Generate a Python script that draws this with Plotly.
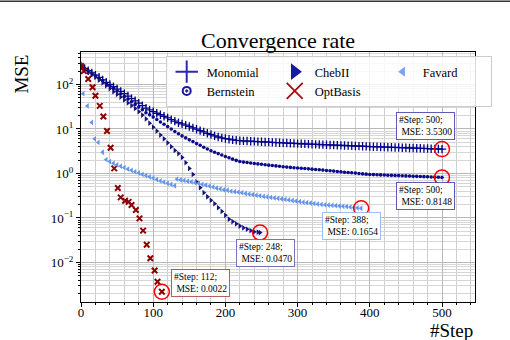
import plotly.graph_objects as go
import math

# ---------------- data ----------------
mono_steps = list(range(0, 505, 5))
mono_mse = [260, 229, 204, 182, 162, 145, 127, 112, 100, 89,
            79, 70, 62, 55, 48, 43, 38, 33.5, 29.5,
            26.9, 24.5, 22.6, 20.9, 19.3, 17.8, 16.2, 15.0, 13.8,
            13.0, 12.2, 11.4, 10.6, 9.9, 9.2, 8.6, 8.0, 7.5,
            7.0, 6.6, 6.3, 6.1, 5.9, 5.7, 5.57, 5.46,
            5.41, 5.36, 5.31, 5.26, 5.21, 5.16, 5.11, 5.06, 5.01, 4.96, 4.92, 4.87, 4.83, 4.78, 4.74, 4.70, 4.66, 4.62, 4.58,
            4.55, 4.51, 4.48, 4.45, 4.42, 4.38, 4.35, 4.32, 4.29, 4.25, 4.22, 4.19, 4.15, 4.12, 4.09, 4.06, 4.03, 4.0,
            3.98, 3.95, 3.93, 3.90, 3.88, 3.85, 3.83, 3.80, 3.78, 3.75, 3.73, 3.70, 3.68, 3.65, 3.63, 3.60, 3.58, 3.55, 3.53]

bern_steps = list(range(0, 505, 5))
bern_mse = [260, 229, 202, 178, 157, 138, 122, 107, 94, 82,
            71.5, 62, 54, 47, 41, 35.5, 31, 27, 23.2,
            20.8, 18.5, 16.3, 14.4, 12.8, 11.3, 10.0, 8.8, 7.8,
            7.0, 6.3, 5.7, 5.2, 4.7, 4.3, 3.9, 3.55, 3.25,
            3.0, 2.8, 2.6, 2.4, 2.25, 2.1, 1.97, 1.86,
            1.80, 1.76, 1.72, 1.68, 1.64, 1.61, 1.57, 1.54, 1.51, 1.48, 1.45, 1.42, 1.39, 1.37, 1.35, 1.33,
            1.31, 1.29, 1.27, 1.25, 1.23, 1.21, 1.19, 1.17, 1.15, 1.13, 1.11, 1.09, 1.07, 1.05, 1.04, 1.02, 1.00, 0.98, 0.965, 0.95,
            0.943, 0.936, 0.93, 0.923, 0.916, 0.909, 0.90, 0.896, 0.889, 0.882, 0.875, 0.869, 0.862, 0.855, 0.848, 0.842, 0.835, 0.828, 0.822, 0.8148]

cheb_steps = list(range(0, 250, 5)) + [248]
cheb_mse = [260, 225, 195, 169, 146, 126, 109, 94, 81, 69,
            60, 52, 45, 38.5, 33.5, 29, 24.5, 20.5, 16.8,
            13.5, 11.0, 9.0, 7.3, 6.0, 4.9, 4.0, 3.3, 2.8,
            2.3, 1.75, 1.3, 0.95, 0.65, 0.48, 0.37, 0.30, 0.25,
            0.21, 0.17, 0.14, 0.115, 0.094, 0.083, 0.074, 0.066, 0.06, 0.056, 0.052, 0.049, 0.048, 0.047]

fav_steps = [3, 9, 15, 19, 24, 30, 35] + list(range(40, 135, 5)) + list(range(133, 389, 5))
fav_mse = [62, 33, 14, 6.0, 5.0, 3.0, 2.05,
           1.85, 1.69, 1.57, 1.46, 1.36, 1.26, 1.18, 1.10, 1.03, 0.96, 0.90, 0.84, 0.79, 0.73, 0.68, 0.64, 0.60, 0.57, 0.53,
           0.75, 0.72, 0.70, 0.67, 0.65, 0.62, 0.60, 0.57, 0.55, 0.52,
           0.50, 0.47, 0.45, 0.43, 0.42, 0.40, 0.39, 0.38, 0.37, 0.355,
           0.345, 0.335, 0.325, 0.315, 0.305, 0.297, 0.29, 0.282, 0.275, 0.268,
           0.261, 0.254, 0.247, 0.24, 0.233, 0.227, 0.221, 0.216, 0.211, 0.206,
           0.202, 0.198, 0.195, 0.192, 0.189, 0.186, 0.183, 0.18, 0.176, 0.172,
           0.169, 0.1654]

opt_steps = [0, 4, 10, 16, 20, 26, 31, 36, 41, 46, 51, 55, 61, 66, 70, 76, 81, 86, 91, 96, 102, 106, 112]
opt_mse = [260, 200, 133, 87, 56, 33, 19, 9.0, 3.8, 1.3, 0.47, 0.29, 0.245, 0.23, 0.196, 0.151,
           0.098, 0.052, 0.025, 0.0124, 0.0066, 0.0037, 0.0022]

x_ticks = [0, 100, 200, 300, 400, 500]
y_ticks = [0.01, 0.1, 1, 10, 100]
y_ticktext = ["10<sup>\u22122</sup>", "10<sup>\u22121</sup>", "10<sup>0</sup>", "10<sup>1</sup>", "10<sup>2</sup>"]

# ---------------- styles ----------------
C_MONO = "#00008B"
C_BERN = "#0a0a8a"
C_CHEB = "#14147a"
C_OPT = "#8B0000"
C_FAV = "#6495ED"
FONT = "Liberation Serif"

series = [
    ("Monomial", mono_steps, mono_mse,
     dict(symbol="cross-thin-open", size=6, color=C_MONO, line=dict(width=1.3, color=C_MONO)),
     dict(symbol="cross-thin-open", size=16, color="#2a2ab0", line=dict(width=2, color="#2a2ab0")),
     "rgba(40,40,160,0.75)", (-17, 23)),
    ("Bernstein", bern_steps, bern_mse,
     dict(symbol="circle", size=3.6, color=C_BERN),
     dict(symbol="circle-open-dot", size=8, color="#1a1a9a", line=dict(width=2, color="#1a1a9a")),
     "rgba(40,40,160,0.75)", (-17, -19)),
    ("ChebII", cheb_steps, cheb_mse,
     dict(symbol="triangle-right", size=5, color=C_CHEB),
     dict(symbol="triangle-right", size=12, color="#1a1aa0", line=dict(width=1.5, color="#1a1aa0")),
     "rgba(60,60,170,0.7)", (5, -20)),
    ("OptBasis", opt_steps, opt_mse,
     dict(symbol="x-thin-open", size=5.5, color=C_OPT, line=dict(width=2, color=C_OPT)),
     dict(symbol="x-thin-open", size=16, color="#a01010", line=dict(width=1.8, color="#a01010")),
     "rgba(160,40,40,0.75)", (39, 9)),
    ("Favard", fav_steps, fav_mse,
     dict(symbol="triangle-left", size=5, color=C_FAV),
     dict(symbol="triangle-left", size=9, color="#7aa5f0"),
     "rgba(100,149,237,0.6)", (-10, -18)),
]

fig = go.Figure()

for name, xs, ys, mk, lmk, bcol, off in series:
    fig.add_trace(go.Scatter(x=xs, y=ys, mode="markers", marker=mk, showlegend=False, name=name,
                             hoverinfo="skip"))

# red circles on the final points
for name, xs, ys, mk, lmk, bcol, off in series:
    fig.add_trace(go.Scatter(x=[xs[-1]], y=[ys[-1]], mode="markers", showlegend=False,
                             marker=dict(symbol="circle-open", size=15, color="red",
                                         line=dict(width=1.5, color="red")),
                             hoverinfo="skip"))

# legend entries (ordered so that the rows read as in the reference)
legend_order = ["Monomial", "ChebII", "Favard", "Bernstein", "OptBasis"]
lookup = {s[0]: s for s in series}
for nm in legend_order:
    s = lookup[nm]
    fig.add_trace(go.Scatter(x=[None], y=[None], mode="markers", name=nm, marker=s[4], showlegend=True))

# annotation boxes
for name, xs, ys, mk, lmk, bcol, off in series:
    fig.add_annotation(x=xs[-1], y=math.log10(ys[-1]), xref="x", yref="y",
                       text="#Step: %d;<br>\u00a0MSE: %.4f" % (xs[-1], ys[-1]),
                       showarrow=False, xshift=off[0], yshift=off[1], align="left",
                       font=dict(family=FONT, size=9.5, color="black"),
                       bgcolor="white", bordercolor=bcol, borderwidth=1, borderpad=2)

# title & axis labels
fig.add_annotation(text="Convergence rate", xref="paper", yref="paper", x=0.5, y=1.046,
                   xanchor="center", yanchor="middle", showarrow=False,
                   font=dict(family=FONT, size=22, color="black"))
fig.add_annotation(text="MSE", xref="paper", yref="paper", x=-0.152, y=0.91, textangle=-90,
                   xanchor="center", yanchor="middle", showarrow=False,
                   font=dict(family=FONT, size=19, color="black"))
fig.add_annotation(text="#Step", xref="paper", yref="paper", x=1.0, y=-0.113,
                   xanchor="right", yanchor="middle", showarrow=False,
                   font=dict(family=FONT, size=19, color="black"))

# page rule at the very top
fig.add_shape(type="line", xref="paper", yref="paper", x0=-0.3, x1=1.2, y0=1.203, y1=1.203,
              line=dict(color="#333333", width=1.5))

minor_y = [m * 10 ** k for k in range(-3, 3) for m in range(2, 10)]

fig.update_layout(
    width=510, height=340,
    margin=dict(l=81, r=35, t=52, b=38),
    paper_bgcolor="white", plot_bgcolor="white",
    font=dict(family=FONT, color="black"),
    legend=dict(orientation="h", x=0.215, y=0.984, xanchor="left", yanchor="top",
                entrywidth=63, bgcolor="rgba(255,255,255,0.85)", bordercolor="#cccccc", borderwidth=1,
                font=dict(family=FONT, size=12.5, color="black"), itemsizing="trace"),
    xaxis=dict(range=[0, 545.7], tickvals=x_ticks, ticks="outside", ticklen=4, tickcolor="black",
               showline=True, linecolor="black", linewidth=1, mirror=True,
               showgrid=True, gridcolor="#b8b8b8", gridwidth=1, zeroline=False,
               ticklabelstandoff=-6,
               tickfont=dict(family=FONT, size=13, color="black"),
               minor=dict(dtick=20, showgrid=True, gridcolor="#cfcfcf", gridwidth=1,
                          ticks="outside", ticklen=2, tickcolor="black")),
    yaxis=dict(type="log", range=[-2.888, 2.730], tickvals=y_ticks, ticktext=y_ticktext,
               ticks="outside", ticklen=4, tickcolor="black",
               showline=True, linecolor="black", linewidth=1, mirror=True,
               showgrid=True, gridcolor="#b8b8b8", gridwidth=1, zeroline=False,
               tickfont=dict(family=FONT, size=13, color="black"),
               minor=dict(tickvals=minor_y, showgrid=True, gridcolor="#d6d6d6", gridwidth=1,
                          ticks="outside", ticklen=2, tickcolor="black")),
)

fig.write_html("out.html", config={"displayModeBar": False},
               post_script="document.body.style.margin='0';document.body.style.overflow='hidden';")
